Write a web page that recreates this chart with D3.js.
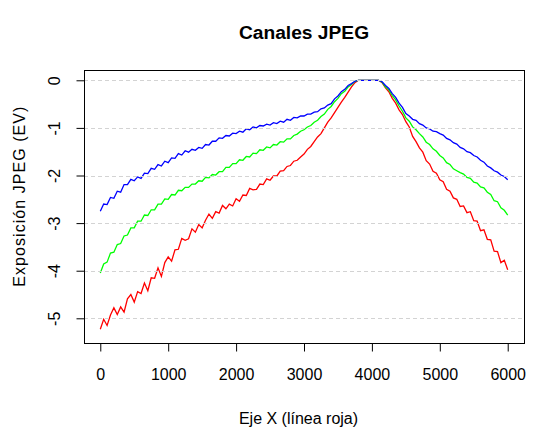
<!DOCTYPE html>
<html><head><meta charset="utf-8">
<script src="https://cdn.jsdelivr.net/npm/d3@7/dist/d3.min.js"></script>
<style>body{margin:0;background:#fff}svg{display:block}</style>
</head><body>
<svg id="chart" width="541" height="437"></svg>
<script>
const title = "Canales JPEG";
const xTitle = "Eje X (línea roja)";
const yTitle = "Exposición JPEG (EV)";
const xTicks = [0, 1000, 2000, 3000, 4000, 5000, 6000];
const yTicks = [0, -1, -2, -3, -4, -5];

const xs = [
  0,50,100,150,200,250,300,350,400,450,500,550,600,650,700,750,800,850,900,950,
  1000,1050,1100,1150,1200,1250,1300,1350,1400,1450,1500,1550,1600,1650,1700,1750,1800,1850,1900,1950,
  2000,2050,2100,2150,2200,2250,2300,2350,2400,2450,2500,2550,2600,2650,2700,2750,2800,2850,2900,2950,
  3000,3050,3100,3150,3200,3250,3300,3350,3400,3450,3500,3550,3600,3650,3700,3750,3800,3850,3900,3950,
  4000,4050,4100,4150,4200,4250,4300,4350,4400,4450,4500,4550,4600,4650,4700,4750,4800,4850,4900,4950,
  5000,5050,5100,5150,5200,5250,5300,5350,5400,5450,5500,5550,5600,5650,5700,5750,5800,5850,5900,5950,
  6000];

const redEV = [
  -5.23,-5.02,-5.15,-4.93,-4.78,-4.92,-4.76,-4.87,-4.59,-4.50,-4.66,-4.44,-4.48,-4.26,-4.42,-4.15,-4.16,-3.94,-4.12,-3.83,
  -3.71,-3.80,-3.56,-3.55,-3.32,-3.36,-3.33,-3.12,-3.19,-3.03,-3.10,-2.94,-2.81,-2.90,-2.76,-2.79,-2.63,-2.70,-2.60,-2.64,
  -2.49,-2.54,-2.41,-2.42,-2.27,-2.30,-2.29,-2.18,-2.19,-2.07,-2.10,-2.01,-2.01,-1.91,-1.90,-1.81,-1.79,-1.70,-1.68,-1.61,
  -1.55,-1.45,-1.39,-1.29,-1.19,-1.12,-1.00,-0.88,-0.79,-0.68,-0.57,-0.46,-0.36,-0.25,-0.14,-0.05,0,0,0,0,
  0,0,0,-0.05,-0.16,-0.24,-0.38,-0.48,-0.62,-0.72,-0.87,-0.98,-1.18,-1.29,-1.42,-1.51,-1.69,-1.76,-1.91,-1.95,
  -2.09,-2.13,-2.29,-2.33,-2.47,-2.50,-2.65,-2.64,-2.78,-2.76,-2.95,-2.96,-3.16,-3.14,-3.34,-3.35,-3.59,-3.60,-3.83,-3.78,
  -3.98];

const greenEV = [
  -4.05,-3.86,-3.82,-3.63,-3.61,-3.45,-3.43,-3.27,-3.25,-3.10,-3.10,-2.96,-2.96,-2.83,-2.84,-2.72,-2.72,-2.60,-2.60,-2.49,
  -2.50,-2.40,-2.41,-2.31,-2.32,-2.25,-2.25,-2.18,-2.18,-2.11,-2.12,-2.04,-2.05,-1.98,-1.99,-1.92,-1.92,-1.83,-1.83,-1.75,
  -1.75,-1.67,-1.68,-1.60,-1.61,-1.53,-1.54,-1.46,-1.47,-1.40,-1.42,-1.35,-1.36,-1.29,-1.30,-1.23,-1.23,-1.16,-1.13,-1.07,
  -1.04,-0.98,-0.95,-0.88,-0.84,-0.76,-0.71,-0.61,-0.55,-0.45,-0.38,-0.28,-0.23,-0.14,-0.09,-0.02,0,0,0,0,
  0,0,0,-0.04,-0.14,-0.20,-0.32,-0.41,-0.54,-0.65,-0.79,-0.86,-0.98,-1.04,-1.12,-1.19,-1.30,-1.35,-1.44,-1.49,
  -1.58,-1.63,-1.73,-1.77,-1.86,-1.90,-1.94,-1.97,-2.04,-2.06,-2.14,-2.16,-2.24,-2.26,-2.35,-2.40,-2.53,-2.55,-2.68,-2.73,
  -2.83];

const blueEV = [
  -2.75,-2.60,-2.61,-2.46,-2.48,-2.33,-2.35,-2.19,-2.19,-2.08,-2.11,-2.03,-2.06,-1.95,-1.96,-1.85,-1.87,-1.77,-1.80,-1.70,
  -1.73,-1.63,-1.64,-1.54,-1.57,-1.48,-1.51,-1.45,-1.47,-1.41,-1.43,-1.35,-1.36,-1.28,-1.28,-1.21,-1.22,-1.16,-1.17,-1.11,
  -1.12,-1.07,-1.09,-1.02,-1.04,-0.98,-1.00,-0.95,-0.96,-0.92,-0.94,-0.89,-0.91,-0.86,-0.88,-0.82,-0.84,-0.78,-0.79,-0.75,
  -0.75,-0.71,-0.71,-0.67,-0.66,-0.60,-0.58,-0.52,-0.49,-0.39,-0.33,-0.24,-0.19,-0.11,-0.07,-0.02,0,0,0,0,
  0,0,0,-0.03,-0.11,-0.17,-0.28,-0.36,-0.48,-0.57,-0.70,-0.75,-0.82,-0.84,-0.91,-0.94,-1.00,-1.02,-1.07,-1.08,
  -1.12,-1.15,-1.22,-1.25,-1.31,-1.34,-1.41,-1.44,-1.50,-1.52,-1.58,-1.61,-1.68,-1.72,-1.80,-1.84,-1.90,-1.93,-1.99,-2.02,
  -2.09];

const seriesNames = ["rojo", "verde", "azul"];
const seriesColors = ["#ff0000", "#00ff00", "#0000ff"];
const seriesValues = [redEV, greenEV, blueEV];

const font = "'Liberation Sans', Arial, sans-serif";
const svg = d3.select("#chart");
svg.append("rect").attr("width", 541).attr("height", 437).attr("fill", "#fff");

const L = 84, R = 524, T = 70.3, B = 343.3;
const x = d3.scaleLinear().domain([-240, 6240]).range([L, R]);
const y = d3.scaleLinear().domain([-5.525, 0.21]).range([B, T]);

svg.append("defs").append("clipPath").attr("id", "clip")
  .append("rect").attr("x", L).attr("y", T).attr("width", R - L).attr("height", B - T);

const line = d3.line().x((d, i) => x(xs[i])).y(d => y(d));
const g = svg.append("g").attr("clip-path", "url(#clip)");
seriesValues.forEach((vals, k) => {
  g.append("path").datum(vals).attr("d", line)
    .attr("fill", "none").attr("stroke", seriesColors[k]).attr("stroke-width", 1.3)
    .attr("stroke-linejoin", "miter");
});

// grid (drawn over the lines, like R's grid())
svg.append("g").selectAll("line").data(yTicks).join("line")
  .attr("x1", L).attr("x2", R)
  .attr("y1", d => Math.round(y(d)) + 0.5).attr("y2", d => Math.round(y(d)) + 0.5)
  .attr("stroke", "#d3d3d3").attr("stroke-dasharray", "4,3");

// box
svg.append("rect").attr("x", L + 0.5).attr("y", 70.5).attr("width", R - L).attr("height", 273)
  .attr("fill", "none").attr("stroke", "#000");

// x axis
const gx = svg.append("g").attr("transform", "translate(0,343.5)")
  .call(d3.axisBottom(x).tickValues(xTicks).tickSize(8).tickFormat(d3.format("d")));
gx.select(".domain").remove();
gx.selectAll("line").attr("stroke", "#000");
gx.selectAll("text").attr("dy", null).attr("y", 36.5)
  .attr("font-family", font).attr("font-size", 16).attr("fill", "#000");

// y axis
const gy = svg.append("g").attr("transform", "translate(84.5,0)")
  .call(d3.axisLeft(y).tickValues(yTicks).tickSize(8).tickFormat(d3.format("d")));
gy.select(".domain").remove();
gy.selectAll("line").attr("stroke", "#000");
gy.selectAll("text").attr("dy", null).attr("x", 0).attr("y", -24.5)
  .attr("transform", "rotate(-90)").attr("text-anchor", "middle")
  .attr("font-family", font).attr("font-size", 16).attr("fill", "#000")
  .text(d => d === 0 ? "0" : "-" + Math.abs(d));

// titles
svg.append("text").attr("x", 304).attr("y", 39).attr("text-anchor", "middle")
  .attr("font-family", font).attr("font-weight", "bold").attr("font-size", 19.2)
  .text(title);
svg.append("text").attr("x", 298.5).attr("y", 423.5).attr("text-anchor", "middle")
  .attr("font-family", font).attr("font-size", 16).text(xTitle);
svg.append("text").attr("transform", "translate(24.5,196.7) rotate(-90)").attr("text-anchor", "middle")
  .attr("font-family", font).attr("font-size", 16)
  .attr("textLength", 180).attr("lengthAdjust", "spacing").text(yTitle);
</script>
</body></html>
